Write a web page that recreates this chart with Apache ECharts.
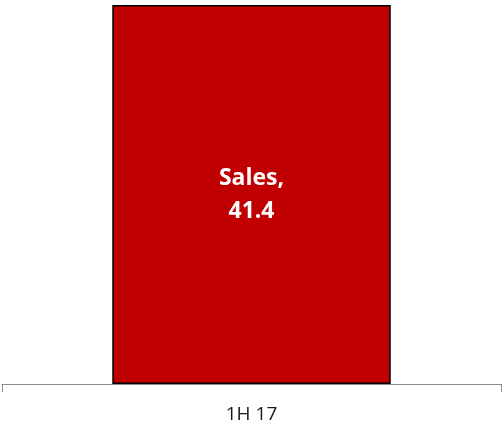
<!DOCTYPE html>
<html>
<head>
<meta charset="utf-8">
<script src="https://cdn.jsdelivr.net/npm/echarts@6/dist/echarts.min.js"></script>
<style>
  html, body { margin: 0; padding: 0; background: #ffffff; }
  #chart { width: 503px; height: 425px; }
</style>
</head>
<body>
<div id="chart"></div>
<script>
// Half-year sales figure
const categories = ['1H 17'];
const seriesName = 'Sales';
const salesValues = [41.4];

const chart = echarts.init(document.getElementById('chart'));
chart.setOption({
  animation: false,
  grid: { left: 2, right: 2, top: 5, bottom: 41, containLabel: false },
  xAxis: {
    type: 'category',
    data: categories,
    axisLine: { lineStyle: { color: '#8c8c8c', width: 1 } },
    axisTick: { show: true, length: 8, lineStyle: { color: '#8c8c8c' } },
    axisLabel: {
      color: '#1a1a1a',
      fontFamily: 'Open Sans',
      fontSize: 19,
      margin: 21
    }
  },
  yAxis: {
    type: 'value',
    min: 0,
    max: 41.4,
    show: false,
    splitLine: { show: false }
  },
  series: [{
    name: seriesName,
    type: 'bar',
    data: salesValues,
    barWidth: '55.8%',
    itemStyle: { color: '#c00000', borderColor: '#000000', borderWidth: 1.5 },
    label: {
      show: true,
      position: 'inside',
      formatter: '{a},\n{c}',
      color: '#ffffff',
      fontFamily: 'Open Sans',
      fontWeight: 'bold',
      fontSize: 23,
      lineHeight: 33
    }
  }]
});
</script>
</body>
</html>
